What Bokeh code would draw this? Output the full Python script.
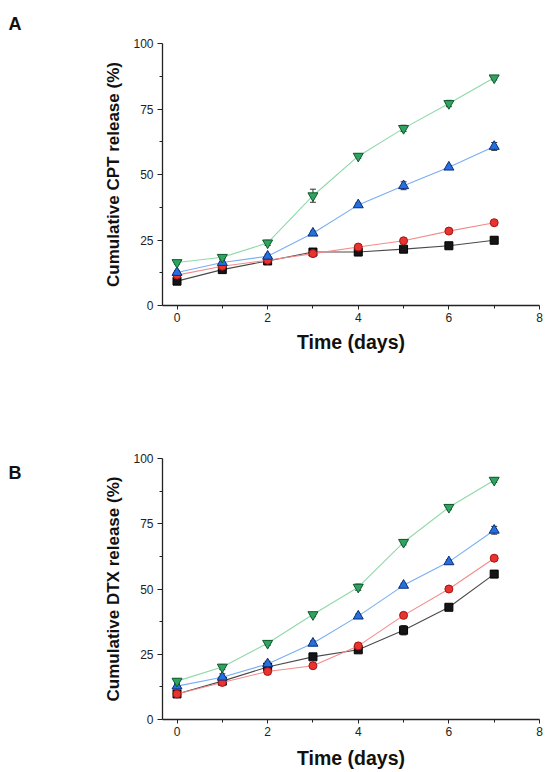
from bokeh.plotting import figure
from bokeh.models import ColumnDataSource, Whisker, TeeHead, FixedTicker, Range1d, Label, Title
from bokeh.layouts import column, row
from bokeh.embed import file_html
from bokeh.resources import INLINE

days = [0, 1, 2, 3, 4, 5, 6, 7]

# Panel A: Cumulative CPT release (%)
a_black = [9.3, 13.7, 17.0, 20.4, 20.4, 21.5, 22.8, 24.9]
a_black_err = [0.6, 0.6, 0.5, 0.6, 0.5, 0.6, 0.5, 0.6]
a_red = [11.6, 15.0, 17.3, 19.8, 22.3, 24.7, 28.4, 31.6]
a_red_err = [0.6, 0.6, 0.5, 0.5, 0.6, 0.6, 0.6, 0.7]
a_blue = [12.6, 16.4, 18.8, 27.6, 38.4, 45.7, 52.8, 60.7]
a_blue_err = [0.7, 1.5, 0.8, 0.8, 0.7, 1.5, 0.7, 1.5]
a_green = [16.4, 18.4, 23.9, 41.9, 57.0, 67.6, 77.1, 86.9]
a_green_err = [0.6, 0.8, 1.0, 2.5, 0.8, 1.2, 1.2, 0.8]

# Panel B: Cumulative DTX release (%)
b_black = [9.8, 14.7, 20.1, 24.0, 26.7, 34.2, 43.0, 55.7]
b_black_err = [0.6, 0.7, 0.7, 0.6, 0.6, 1.8, 0.8, 0.7]
b_red = [9.8, 14.2, 18.4, 20.6, 28.2, 39.9, 50.0, 61.8]
b_red_err = [0.8, 0.8, 0.8, 0.7, 1.0, 0.8, 0.7, 1.0]
b_blue = [12.8, 16.2, 21.3, 29.2, 39.6, 51.4, 60.4, 72.5]
b_blue_err = [0.7, 1.3, 1.0, 0.9, 0.8, 0.8, 0.8, 1.5]
b_green = [14.7, 20.1, 29.2, 40.2, 50.7, 67.9, 81.3, 91.7]
b_green_err = [0.8, 1.0, 0.8, 0.8, 1.2, 1.0, 0.9, 0.9]

x_ticks = [0, 2, 4, 6, 8]
x_minor = [1, 3, 5, 7]
y_ticks = [0, 25, 50, 75, 100]
y_minor = [12.5, 37.5, 62.5, 87.5]

FONT = "Liberation Sans"
LETTER_W = 30

series_style = [
    # marker, fill, edge, line color, size
    ("square", "#151515", "#000000", "#4a4a4a", 8),
    ("circle", "#e8332f", "#a31515", "#f38b8b", 8),
    ("triangle", "#2470de", "#0b2d7a", "#78aef2", 10),
    ("inverted_triangle", "#2fa35f", "#0d5a2c", "#8ed9a8", 10),
]


def make_panel(ylabel, series, top_border, bottom_border, frame_h, xlab_standoff):
    p = figure(frame_width=377, frame_height=frame_h,
               min_border_left=162 - LETTER_W, min_border_right=9,
               min_border_top=top_border, min_border_bottom=bottom_border,
               x_range=Range1d(-0.32, 8.0), y_range=Range1d(0, 100),
               output_backend="svg", toolbar_location=None)
    p.outline_line_color = None
    p.xgrid.visible = False
    p.ygrid.visible = False
    p.background_fill_color = "white"
    p.border_fill_color = "white"

    for (vals, errs), (mk, fill, edge, lc, sz) in zip(series, series_style):
        src = ColumnDataSource(dict(x=days, y=vals,
                                    lo=[v - e for v, e in zip(vals, errs)],
                                    hi=[v + e for v, e in zip(vals, errs)]))
        p.line("x", "y", source=src, line_color=lc, line_width=1.1)
        p.scatter("x", "y", source=src, marker=mk, size=sz,
                  fill_color=fill, line_color=edge, line_width=1)
        w = Whisker(base="x", lower="lo", upper="hi", source=src,
                    line_color="#333333", line_width=1,
                    upper_head=TeeHead(size=6, line_color="#333333", line_width=1),
                    lower_head=TeeHead(size=6, line_color="#333333", line_width=1))
        p.add_layout(w)

    p.xaxis.ticker = FixedTicker(ticks=x_ticks, minor_ticks=x_minor)
    p.yaxis.ticker = FixedTicker(ticks=y_ticks, minor_ticks=y_minor)
    for ax in (p.xaxis, p.yaxis):
        ax.axis_line_color = "#222222"
        ax.axis_line_width = 1.3
        ax.major_tick_line_color = "#222222"
        ax.minor_tick_line_color = "#222222"
        ax.major_tick_in = 0
        ax.minor_tick_in = 0
        ax.major_label_text_font = FONT
        ax.major_label_text_font_size = "12px"
        ax.major_label_text_color = "#222222"
        ax.axis_label_text_font = FONT
        ax.axis_label_text_font_style = "bold"
        ax.axis_label_text_color = "#111111"
    p.xaxis.major_tick_out = 4
    p.xaxis.minor_tick_out = 3
    p.yaxis.major_tick_out = 5
    p.yaxis.minor_tick_out = 3
    p.xaxis.major_label_standoff = 3
    p.yaxis.major_label_standoff = 4
    p.xaxis.axis_label = "Time (days)"
    p.xaxis.axis_label_text_font_size = "19.5px"
    p.xaxis.axis_label_standoff = xlab_standoff
    p.yaxis.axis_label = ylabel
    p.yaxis.axis_label_text_font_size = "17px"
    p.yaxis.axis_label_standoff = 7
    return p


def letter_panel(height):
    # narrow companion figure; its frame is aligned with the main panel's frame
    q = figure(width=LETTER_W, height=height, min_border=0,
               x_range=Range1d(0, LETTER_W), y_range=Range1d(0, 100),
               x_axis_location=None, y_axis_location=None,
               output_backend="svg", toolbar_location=None)
    q.outline_line_color = None
    q.xgrid.visible = False
    q.ygrid.visible = False
    return q


pA = make_panel("Cumulative CPT release (%)",
                [(a_black, a_black_err), (a_red, a_red_err),
                 (a_blue, a_blue_err), (a_green, a_green_err)],
                43, 80, 262, 6)
pB = make_panel("Cumulative DTX release (%)",
                [(b_black, b_black_err), (b_red, b_red_err),
                 (b_blue, b_blue_err), (b_green, b_green_err)],
                73, 52, 261, 8)

hA = 43 + 262 + 80
hB = 73 + 261 + 52
lA = letter_panel(hA)
lA.add_layout(Title(text="A", align="left", offset=8, standoff=20,
                    text_font=FONT, text_font_style="bold", text_font_size="18px",
                    text_color="#111111"), "above")
lB = letter_panel(hB)
lB.add_layout(Label(x=8, y=98.1, text="B", text_font=FONT,
                    text_font_style="bold", text_font_size="18px",
                    text_baseline="top", text_align="left", text_color="#111111"))

layout = column(row(lA, pA, spacing=0), row(lB, pB, spacing=0), spacing=0)
open("out.html", "w").write(file_html(layout, INLINE))
